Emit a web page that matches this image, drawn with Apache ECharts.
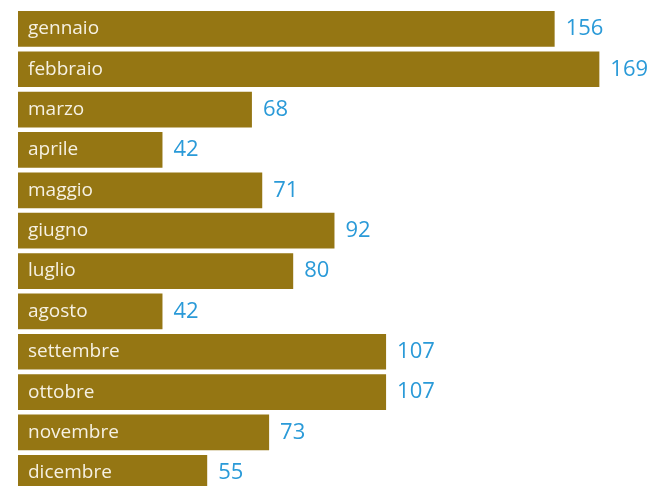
<!DOCTYPE html>
<html><head><meta charset="utf-8">
<script src="https://cdn.jsdelivr.net/npm/echarts@6/dist/echarts.min.js"></script>
<style>html,body{margin:0;padding:0;background:#fff}#c{width:653px;height:486px}</style>
</head><body><div id="c"></div>
<script>
var categories = ["gennaio","febbraio","marzo","aprile","maggio","giugno","luglio","agosto","settembre","ottobre","novembre","dicembre"];
var values = [156,169,68,42,71,92,80,42,107,107,73,55];
var chart = echarts.init(document.getElementById('c'), null, {renderer:'canvas'});
chart.setOption({
  animation:false,
  grid:{left:18, top:8.7, width:619.2, bottom:-7, containLabel:false, outerBoundsMode:'none'},
  xAxis:{type:'value', min:0, max:180, show:false},
  yAxis:{type:'category', data:categories, inverse:true, z:10,
    axisLine:{show:false}, axisTick:{show:false}, splitLine:{show:false},
    axisLabel:{inside:true, margin:10, color:'#f6f1e3', fontSize:19, fontFamily:'Open Sans'}},
  series:[{type:'bar', data:values, barCategoryGap:'11.5%',
    itemStyle:{color:'#957613'},
    label:{show:true, position:'right', distance:11, color:'#2a9ad8', fontSize:22, fontFamily:'Open Sans'}}]
});
</script></body></html>
